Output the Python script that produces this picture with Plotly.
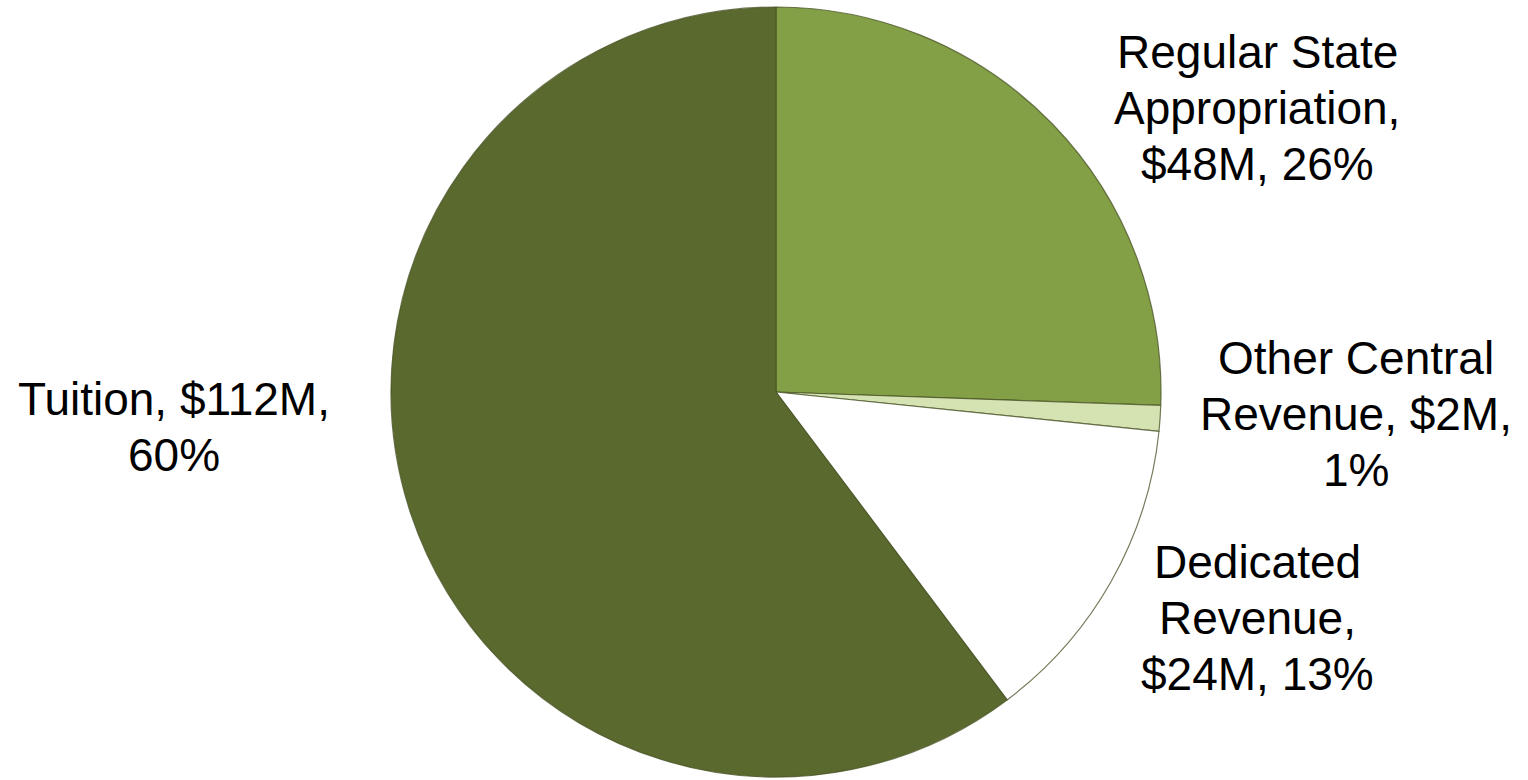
import plotly.graph_objects as go

W, H = 1528, 780

categories = ["Regular State Appropriation", "Other Central Revenue", "Dedicated Revenue", "Tuition"]
values = [47.5, 2.0, 24.4, 112.0]
label_lines = [
    ["Regular State", "Appropriation,", "$48M, 26%"],
    ["Other Central", "Revenue, $2M,", "1%"],
    ["Dedicated", "Revenue,", "$24M, 13%"],
    ["Tuition, $112M,", "60%"],
]
colors = ["#83A046", "#D5E3B3", "#FFFFFF", "#5A6A2F"]

# pie geometry (pixels)
cx, cy, r = 776, 392, 385
# label block centres (pixels) and line spacing
label_pos = [(1257, 108), (1356, 414), (1257, 618), (174, 427)]
line_gap = 56
font_size = 46

fig = go.Figure()
fig.add_trace(go.Pie(
    labels=categories,
    values=values,
    sort=False,
    direction="clockwise",
    rotation=0,
    textinfo="none",
    hoverinfo="label+value+percent",
    marker=dict(colors=colors, line=dict(color="rgba(70,80,35,0.75)", width=1.2)),
    domain=dict(x=[(cx - r) / W, (cx + r) / W], y=[(H - cy - r) / H, (H - cy + r) / H]),
    showlegend=False,
))

for lines, (px, py) in zip(label_lines, label_pos):
    n = len(lines)
    for i, line in enumerate(lines):
        ly = py + (i - (n - 1) / 2) * line_gap
        fig.add_annotation(
            x=px / W, y=1 - ly / H, xref="paper", yref="paper",
            text=line, showarrow=False, align="center",
            xanchor="center", yanchor="middle",
            font=dict(family="Liberation Sans, Arial", size=font_size, color="#000000"),
        )

fig.update_layout(
    width=W, height=H,
    margin=dict(l=0, r=0, t=0, b=0),
    paper_bgcolor="white",
    plot_bgcolor="white",
)

fig.write_html("out.html")
